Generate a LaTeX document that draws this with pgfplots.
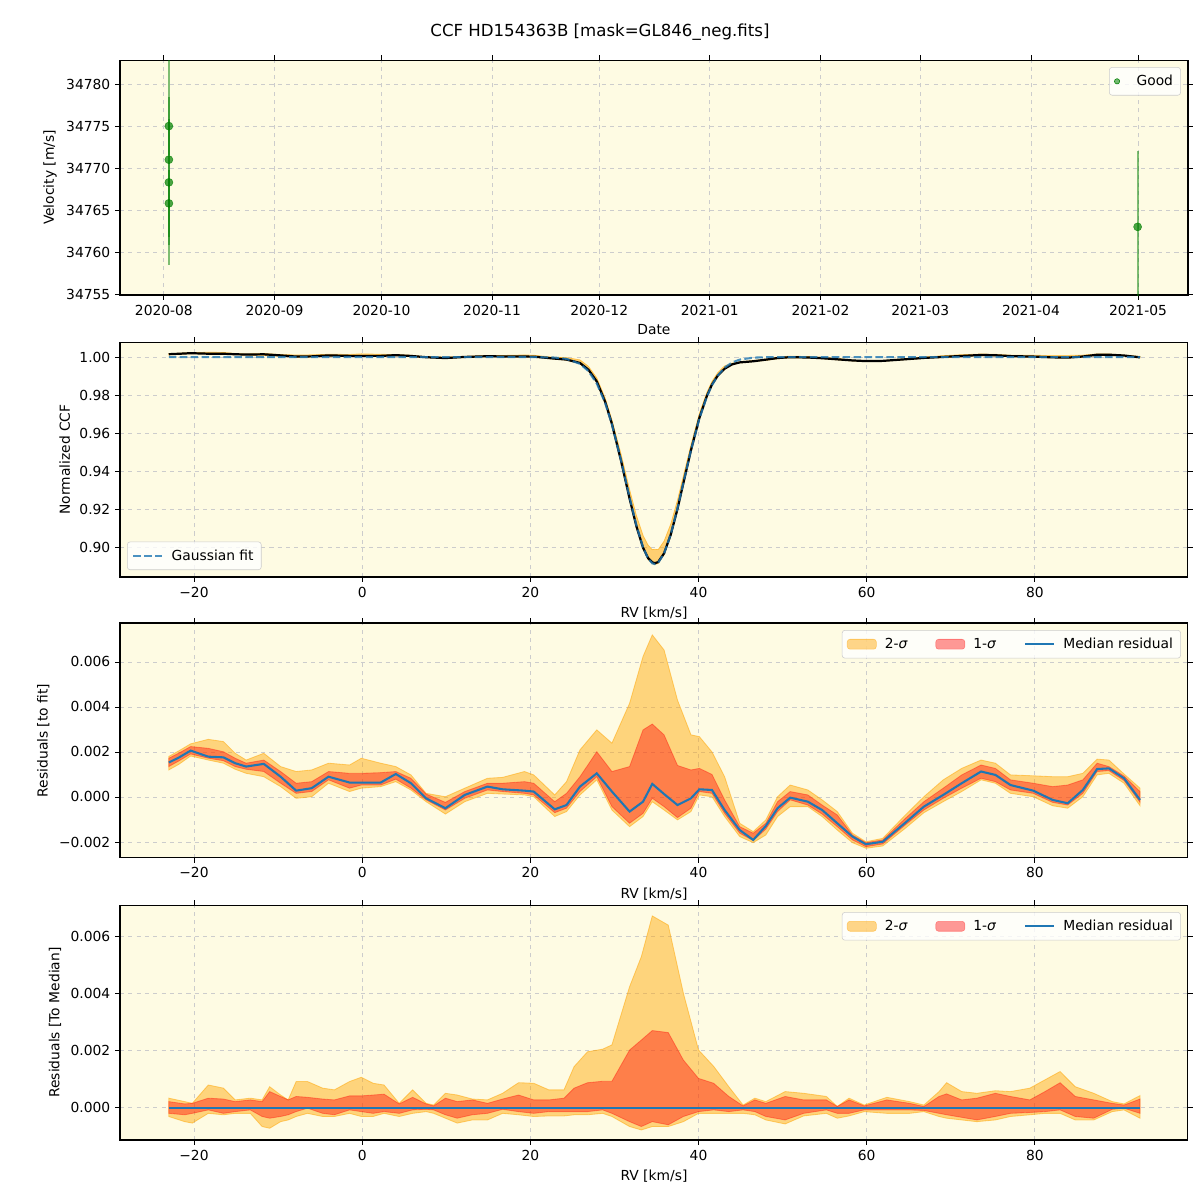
\documentclass[border=0pt]{standalone}
\usepackage{fontspec}
\setmainfont{DejaVu Sans}
\usepackage{pgfplots}
\pgfplotsset{compat=1.18}
\usepackage{pgfplotstable}
\usepgfplotslibrary{fillbetween}

\definecolor{bgc}{RGB}{254,251,227}
\definecolor{mplblue}{HTML}{1F77B4}
\definecolor{mplorange}{HTML}{FFA500}
\definecolor{mplred}{HTML}{FF0000}
\definecolor{mplgreen}{RGB}{0,128,0}

% CCF, Gaussian fit and 2-sigma envelope
\pgfplotstableread{
x fit ccf lo hi
-23.0 1.00000 1.00153 1.00120 1.00180
-21.8 1.00000 1.00175 1.00145 1.00205
-20.4 1.00000 1.00206 1.00182 1.00236
-18.3 1.00000 1.00179 1.00164 1.00256
-16.5 1.00000 1.00176 1.00150 1.00246
-15.1 1.00000 1.00150 1.00123 1.00194
-13.8 1.00000 1.00135 1.00105 1.00164
-11.7 1.00000 1.00147 1.00090 1.00194
-9.7 1.00000 1.00090 1.00046 1.00135
-7.85 1.00000 1.00028 0.99994 1.00113
-6.0 1.00000 1.00039 1.00001 1.00120
-4.0 1.00000 1.00090 1.00061 1.00150
-1.5 1.00000 1.00064 1.00024 1.00142
-0.1 1.00000 1.00064 1.00039 1.00172
2.2 1.00000 1.00064 1.00046 1.00150
4.0 1.00000 1.00102 1.00068 1.00135
5.8 1.00000 1.00061 1.00031 1.00098
7.6 1.00000 0.99994 0.99979 1.00016
9.9 1.00000 0.99950 0.99924 1.00001
12.2 1.00000 1.00009 0.99979 1.00039
14.9 1.00000 1.00046 1.00016 1.00083
16.7 1.00000 1.00034 1.00013 1.00087
19.3 1.00000 1.00028 1.00009 1.00113
20.4 1.00000 1.00024 1.00001 1.00098
22.9 0.99976 0.99921 0.99889 0.99985
24.3 0.99907 0.99871 0.99842 0.99975
25.9 0.99646 0.99692 0.99655 0.99855
26.9 0.99266 0.99341 0.99306 0.99516
27.9 0.98609 0.98714 0.98685 0.98907
28.9 0.97582 0.97642 0.97592 0.97842
29.7 0.96461 0.96485 0.96403 0.96700
30.8 0.94540 0.94510 0.94440 0.94870
31.8 0.92614 0.92549 0.92482 0.93030
32.6 0.91159 0.91114 0.91049 0.91679
33.4 0.89986 0.89965 0.89899 0.90610
34.0 0.89397 0.89420 0.89340 0.90100
34.5 0.89142 0.89200 0.89121 0.89862
34.8 0.89100 0.89150 0.89080 0.89880
35.2 0.89175 0.89210 0.89135 0.89865
35.9 0.89656 0.89669 0.89598 0.90309
36.7 0.90675 0.90660 0.90595 0.91215
37.5 0.92047 0.92011 0.91945 0.92477
38.3 0.93583 0.93563 0.93498 0.93933
39.1 0.95100 0.95094 0.95035 0.95376
40.1 0.96766 0.96800 0.96775 0.97034
41.0 0.97933 0.97965 0.97935 0.98150
41.6 0.98525 0.98556 0.98526 0.98725
42.3 0.99043 0.99033 0.99003 0.99193
43.1 0.99446 0.99388 0.99359 0.99536
44.0 0.99720 0.99620 0.99590 0.99680
44.9 0.99868 0.99721 0.99692 0.99751
46.5 0.99971 0.99780 0.99768 0.99817
48.0 0.99995 0.99866 0.99826 0.99893
49.4 1.00000 0.99950 0.99913 1.00001
50.9 1.00000 0.99997 0.99957 1.00053
53.0 1.00000 0.99979 0.99957 1.00031
54.7 1.00000 0.99942 0.99913 0.99987
56.5 1.00000 0.99883 0.99853 0.99935
58.3 1.00000 0.99824 0.99797 0.99839
59.9 1.00000 0.99790 0.99772 0.99801
61.9 1.00000 0.99801 0.99782 0.99816
64.6 1.00000 0.99886 0.99861 0.99920
66.8 1.00000 0.99957 0.99930 1.00001
69.1 1.00000 1.00009 0.99979 1.00076
71.3 1.00000 1.00061 1.00024 1.00127
73.6 1.00000 1.00113 1.00076 1.00164
75.3 1.00000 1.00098 1.00061 1.00150
77.1 1.00000 1.00053 1.00016 1.00098
79.8 1.00000 1.00028 1.00001 1.00094
82.1 1.00000 0.99987 0.99961 1.00090
83.9 1.00000 0.99972 0.99950 1.00090
85.7 1.00000 1.00031 1.00001 1.00105
87.4 1.00000 1.00124 1.00098 1.00168
88.8 1.00000 1.00127 1.00105 1.00164
90.6 1.00000 1.00083 1.00061 1.00102
92.5 1.00000 0.99987 0.99961 1.00039
}\ccftab

% residuals to fit, in units of 1e-3
\pgfplotstableread{
x lo2 lo1 med hi1 hi2
-23.0 1.20 1.35 1.53 1.72 1.80
-21.8 1.45 1.60 1.75 1.95 2.05
-20.4 1.82 1.91 2.06 2.24 2.36
-18.3 1.64 1.72 1.79 2.16 2.56
-16.5 1.50 1.61 1.76 2.01 2.46
-15.1 1.23 1.35 1.50 1.72 1.94
-13.8 1.05 1.23 1.35 1.50 1.64
-11.7 0.90 1.13 1.47 1.64 1.94
-9.7 0.46 0.61 0.90 1.13 1.35
-7.85 -0.06 0.16 0.28 0.61 1.13
-6.0 0.01 0.24 0.39 0.68 1.20
-4.0 0.61 0.76 0.90 1.13 1.50
-1.5 0.24 0.39 0.64 1.05 1.42
-0.1 0.39 0.53 0.64 1.05 1.72
2.2 0.46 0.53 0.64 1.08 1.50
4.0 0.68 0.79 1.02 1.13 1.35
5.8 0.31 0.39 0.61 0.83 0.98
7.6 -0.21 -0.13 -0.06 0.13 0.16
9.9 -0.76 -0.58 -0.50 -0.24 0.01
12.2 -0.21 -0.06 0.09 0.24 0.39
14.9 0.16 0.31 0.46 0.61 0.83
16.7 0.13 0.24 0.34 0.61 0.87
19.3 0.09 0.16 0.28 0.68 1.13
20.4 0.01 0.09 0.24 0.61 0.98
22.9 -0.87 -0.70 -0.55 -0.21 0.09
24.3 -0.65 -0.50 -0.36 0.16 0.68
25.9 0.09 0.24 0.46 0.90 2.09
27.9 0.76 0.90 1.05 2.01 2.98
29.7 -0.58 -0.43 0.24 1.13 2.39
31.8 -1.32 -1.17 -0.65 1.35 4.16
33.4 -0.87 -0.73 -0.21 2.98 6.24
34.5 -0.21 -0.06 0.58 3.24 7.20
35.9 -0.58 -0.43 0.13 2.76 6.53
37.5 -1.02 -0.92 -0.36 1.40 4.30
39.1 -0.65 -0.50 -0.06 1.20 2.76
40.1 0.09 0.24 0.34 1.27 2.68
41.6 0.01 0.16 0.31 1.00 2.00
43.1 -0.87 -0.73 -0.58 -0.13 0.90
44.9 -1.76 -1.61 -1.47 -1.32 -1.17
46.5 -2.03 -1.94 -1.91 -1.61 -1.54
48.0 -1.69 -1.43 -1.29 -1.17 -1.02
49.4 -0.87 -0.65 -0.50 -0.21 0.01
50.9 -0.43 -0.13 -0.03 0.24 0.53
53.0 -0.43 -0.36 -0.21 0.09 0.31
54.7 -0.87 -0.76 -0.58 -0.36 -0.13
56.5 -1.47 -1.32 -1.17 -0.80 -0.65
58.3 -2.03 -1.91 -1.76 -1.69 -1.61
59.9 -2.28 -2.21 -2.10 -2.03 -1.99
61.9 -2.18 -2.09 -1.99 -1.91 -1.84
64.6 -1.39 -1.24 -1.14 -0.95 -0.80
66.8 -0.70 -0.58 -0.43 -0.21 0.01
69.1 -0.21 -0.06 0.09 0.39 0.76
71.3 0.24 0.39 0.61 0.98 1.27
73.6 0.76 0.83 1.13 1.42 1.64
75.3 0.61 0.68 0.98 1.27 1.50
77.1 0.16 0.31 0.53 0.76 0.98
79.8 0.01 0.16 0.28 0.61 0.94
82.1 -0.39 -0.24 -0.13 0.46 0.90
83.9 -0.50 -0.36 -0.28 0.53 0.90
85.7 0.01 0.16 0.31 0.76 1.05
87.4 0.98 1.13 1.24 1.50 1.68
88.8 1.05 1.17 1.27 1.35 1.64
90.6 0.61 0.73 0.83 0.93 1.02
92.5 -0.39 -0.24 -0.13 0.24 0.39
}\restab

% residuals to median, in units of 1e-3
\pgfplotstableread{
x lo2 lo1 hi1 hi2
-23.0 -0.30 -0.19 0.22 0.34
-21.1 -0.48 -0.24 0.14 0.22
-20.2 -0.53 -0.19 0.16 0.16
-18.3 -0.19 -0.07 0.34 0.80
-16.5 -0.24 -0.19 0.31 0.69
-15.1 -0.19 -0.13 0.22 0.28
-13.3 -0.19 -0.07 0.28 0.34
-11.9 -0.65 -0.30 0.22 0.28
-11.0 -0.71 -0.36 0.57 0.74
-9.7 -0.48 -0.30 0.40 0.45
-8.8 -0.42 -0.24 0.28 0.28
-7.85 -0.30 -0.13 0.40 0.92
-6.5 -0.19 -0.01 0.37 0.92
-4.7 -0.30 -0.19 0.31 0.69
-3.3 -0.30 -0.24 0.28 0.63
-1.5 -0.19 -0.07 0.42 0.92
-0.1 -0.30 -0.13 0.42 1.07
1.3 -0.30 -0.19 0.45 0.86
2.6 -0.19 -0.13 0.48 0.80
4.4 -0.30 -0.19 0.14 0.16
6.0 -0.19 -0.07 0.37 0.63
7.6 -0.13 -0.05 0.14 0.16
8.5 -0.19 -0.07 0.07 0.10
9.9 -0.36 -0.24 0.34 0.51
11.3 -0.53 -0.36 0.22 0.45
13.1 -0.42 -0.24 0.28 0.31
14.9 -0.42 -0.19 0.16 0.28
16.7 -0.19 -0.05 0.31 0.51
18.6 -0.24 -0.13 0.45 0.88
20.4 -0.30 -0.19 0.28 0.86
22.2 -0.28 -0.13 0.28 0.63
24.0 -0.28 -0.13 0.34 0.63
25.2 -0.24 -0.13 0.69 1.44
26.8 -0.24 -0.13 0.88 1.96
28.6 -0.19 -0.07 0.93 2.05
29.7 -0.30 -0.19 0.93 2.20
31.8 -0.65 -0.48 2.02 4.23
33.2 -0.77 -0.65 2.37 5.28
34.5 -0.65 -0.48 2.70 6.70
36.4 -0.65 -0.59 2.63 6.38
38.2 -0.48 -0.30 1.67 4.00
40.0 -0.19 -0.13 1.03 2.02
41.8 -0.19 -0.07 0.86 1.45
43.6 -0.19 -0.13 0.40 0.74
45.3 -0.19 -0.07 0.07 0.10
46.7 -0.24 -0.13 0.28 0.34
48.0 -0.42 -0.30 0.16 0.22
50.3 -0.56 -0.42 0.40 0.57
52.5 -0.28 -0.19 0.28 0.51
55.2 -0.19 -0.07 0.28 0.40
56.5 -0.36 -0.19 0.05 0.05
57.9 -0.28 -0.19 0.28 0.34
59.7 -0.13 -0.07 0.07 0.10
62.4 -0.19 -0.07 0.28 0.37
65.1 -0.19 -0.07 0.16 0.22
66.8 -0.13 -0.09 0.05 0.10
68.6 -0.30 -0.19 0.40 0.57
69.5 -0.36 -0.24 0.49 0.88
71.3 -0.42 -0.33 0.28 0.57
73.1 -0.48 -0.42 0.34 0.51
75.3 -0.42 -0.30 0.51 0.60
77.1 -0.30 -0.19 0.40 0.57
79.4 -0.24 -0.16 0.28 0.69
81.2 -0.19 -0.13 0.57 0.98
83.0 -0.19 -0.07 0.88 1.27
84.8 -0.42 -0.30 0.40 0.74
87.0 -0.42 -0.36 0.28 0.51
89.2 -0.13 -0.05 0.16 0.22
90.6 -0.07 -0.01 0.10 0.14
92.5 -0.36 -0.19 0.31 0.43
}\remtab

\pgfplotsset{
  panel/.style={
    scale only axis, width=771.8pt, height=169.8pt, anchor=south west,
    axis background/.style={fill=bgc},
    grid=major, major grid style={dashed, line width=0.6pt, draw=black!20},
    tick align=outside, major tick length=3.5pt,
    tick style={black, line width=0.6pt},
    axis line style={line width=0.8pt},
    tick label style={font=\fontsize{10}{12}\selectfont},
    label style={font=\fontsize{10}{12}\selectfont},
    /pgf/number format/assume math mode=true,
    /pgf/number format/1000 sep={},
    legend cell align=left,
    legend style={font=\fontsize{10}{12}\selectfont, fill=white, fill opacity=0.8,
      text opacity=1, draw opacity=1, draw=black!20, rounded corners=2pt,
      inner sep=3.5pt},
  },
  rvaxis/.style={xmin=-28.8, xmax=98.2, xtick={-20,0,20,40,60,80},
    xticklabels={−20,0,20,40,60,80}, xlabel={RV [km/s]}},
  bandlegend/.style={legend columns=3,
    legend style={at={(0.9934,0.97)}, anchor=north east,
      /tikz/every odd column/.append style={column sep=4pt},
      /tikz/every even column/.append style={column sep=18pt}}},
}

\begin{document}
\begin{tikzpicture}

\node[font=\fontsize{12}{14}\selectfont] at (433.6pt,844.1pt) {CCF HD154363B [mask=GL846\_neg.fits]};

% panel 1: velocities
\begin{axis}[panel, at={(86.72pt,654.0pt)},
  xmin=-12.3, xmax=287.0, ymin=34754.88, ymax=34782.86,
  xtick={0,31,61,92,122,153,184,212,243,273},
  xticklabels={2020-08,2020-09,2020-10,2020-11,2020-12,2021-01,2021-02,2021-03,2021-04,2021-05},
  ytick={34755,34760,34765,34770,34775,34780},
  yticklabels={34755,34760,34765,34770,34775,34780},
  scaled y ticks=false,
  xlabel={Date}, ylabel={Velocity [m/s]},
  legend style={at={(0.9934,0.97)}, anchor=north east},
]
\addplot[forget plot, only marks, mark=*, mark size=2.9pt,
  mark options={draw=mplgreen, fill=mplgreen, fill opacity=0.7, draw opacity=0.7},
  error bars/.cd, y dir=both, y explicit, error mark=none,
  error bar style={line width=1.6pt, draw=mplgreen, draw opacity=0.5}]
  table[x=x, y=y, y error=e]{
x y e
1.4 34771.0 12.5
1.4 34775.0 3.5
1.4 34768.3 7.5
1.4 34765.8 4.0
272.9 34763.0 9.0
};
\addlegendimage{legend image code/.code={\fill[mplgreen, fill opacity=0.55] (8pt,0pt) circle (1.9pt);}}
\addlegendentry{\quad Good}
\end{axis}

% panel 2: CCF
\begin{axis}[panel, rvaxis, at={(86.72pt,450.2pt)},
  ymin=0.8842, ymax=1.0079,
  ytick={0.90,0.92,0.94,0.96,0.98,1.00},
  yticklabels={0.90,0.92,0.94,0.96,0.98,1.00},
  ylabel={Normalized CCF},
  legend style={at={(0.0066,0.03)}, anchor=south west,
    /tikz/every odd column/.append style={column sep=4pt}},
]
\addplot[draw=none, name path=chi, forget plot] table[x=x, y=hi]{\ccftab};
\addplot[draw=none, name path=clo, forget plot] table[x=x, y=lo]{\ccftab};
\addplot[fill=mplorange, fill opacity=0.5, draw=mplorange, draw opacity=0.6, line width=0.5pt, forget plot] fill between[of=chi and clo];
\addplot[black, line width=1.6pt, forget plot] table[x=x, y=ccf]{\ccftab};
\addplot[mplblue, line width=1.5pt, draw opacity=0.8, dash pattern=on 5.5pt off 2.4pt, forget plot] table[x=x, y=fit]{\ccftab};
\addlegendimage{legend image code/.code={\draw[mplblue, line width=1.5pt, draw opacity=0.8, dash pattern=on 5.5pt off 2.4pt] (0pt,0pt) -- (21pt,0pt);}}
\addlegendentry{Gaussian fit}
\end{axis}

% panel 3: residuals to fit
\begin{axis}[panel, rvaxis, bandlegend, at={(86.72pt,247.2pt)},
  ymin=-2.71, ymax=7.73,
  ytick={-2,0,2,4,6},
  yticklabels={−0.002,0.000,0.002,0.004,0.006},
  ylabel={Residuals [to fit]},
]
\addplot[draw=none, name path=ahi2, forget plot] table[x=x, y=hi2]{\restab};
\addplot[draw=none, name path=alo2, forget plot] table[x=x, y=lo2]{\restab};
\addplot[draw=none, name path=ahi1, forget plot] table[x=x, y=hi1]{\restab};
\addplot[draw=none, name path=alo1, forget plot] table[x=x, y=lo1]{\restab};
\addplot[fill=mplorange, fill opacity=0.45, draw=mplorange, draw opacity=0.5, line width=0.6pt, forget plot] fill between[of=ahi2 and alo2];
\addplot[fill=mplred, fill opacity=0.4, draw=mplred, draw opacity=0.35, line width=0.6pt, forget plot] fill between[of=ahi1 and alo1];
\addplot[mplblue, line width=1.5pt, forget plot] table[x=x, y=med]{\restab};
\addlegendimage{legend image code/.code={\draw[fill=mplorange, fill opacity=0.45, draw=mplorange, draw opacity=0.5] (0pt,-3.6pt) rectangle (21pt,3.6pt);}}
\addlegendentry{2-\textit{σ}}
\addlegendimage{legend image code/.code={\draw[fill=mplred, fill opacity=0.4, draw=mplred, draw opacity=0.35] (0pt,-3.6pt) rectangle (21pt,3.6pt);}}
\addlegendentry{1-\textit{σ}}
\addlegendimage{legend image code/.code={\draw[mplblue, line width=1.5pt] (0pt,0pt) -- (21pt,0pt);}}
\addlegendentry{Median residual}
\end{axis}

% panel 4: residuals to median
\begin{axis}[panel, rvaxis, bandlegend, at={(86.72pt,43.36pt)},
  ymin=-1.12, ymax=7.08,
  ytick={0,2,4,6},
  yticklabels={0.000,0.002,0.004,0.006},
  ylabel={Residuals [To Median]},
]
\addplot[draw=none, name path=bhi2, forget plot] table[x=x, y=hi2]{\remtab};
\addplot[draw=none, name path=blo2, forget plot] table[x=x, y=lo2]{\remtab};
\addplot[draw=none, name path=bhi1, forget plot] table[x=x, y=hi1]{\remtab};
\addplot[draw=none, name path=blo1, forget plot] table[x=x, y=lo1]{\remtab};
\addplot[fill=mplorange, fill opacity=0.45, draw=mplorange, draw opacity=0.5, line width=0.6pt, forget plot] fill between[of=bhi2 and blo2];
\addplot[fill=mplred, fill opacity=0.4, draw=mplred, draw opacity=0.35, line width=0.6pt, forget plot] fill between[of=bhi1 and blo1];
\addplot[mplblue, line width=1.5pt, forget plot] coordinates {(-23.0,0) (92.5,0)};
\addlegendimage{legend image code/.code={\draw[fill=mplorange, fill opacity=0.45, draw=mplorange, draw opacity=0.5] (0pt,-3.6pt) rectangle (21pt,3.6pt);}}
\addlegendentry{2-\textit{σ}}
\addlegendimage{legend image code/.code={\draw[fill=mplred, fill opacity=0.4, draw=mplred, draw opacity=0.35] (0pt,-3.6pt) rectangle (21pt,3.6pt);}}
\addlegendentry{1-\textit{σ}}
\addlegendimage{legend image code/.code={\draw[mplblue, line width=1.5pt] (0pt,0pt) -- (21pt,0pt);}}
\addlegendentry{Median residual}
\end{axis}

\pgfresetboundingbox
\path[use as bounding box] (0pt,0pt) rectangle (867.24pt,867.24pt);
\end{tikzpicture}
\end{document}
